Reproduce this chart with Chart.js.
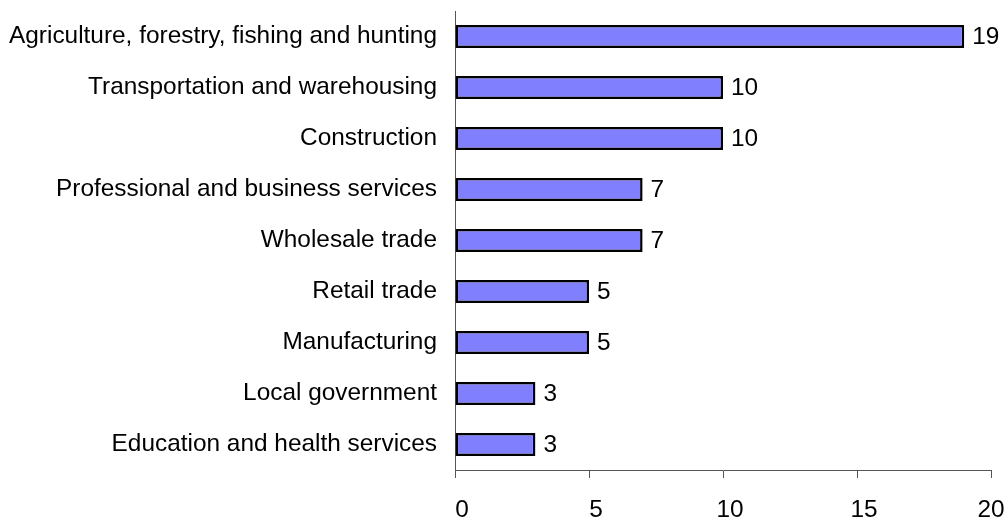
<!DOCTYPE html>
<html>
<head>
<meta charset="utf-8">
<script src="https://cdn.jsdelivr.net/npm/chart.js@4/dist/chart.umd.min.js"></script>
<style>
  html, body { margin: 0; padding: 0; background: #ffffff; }
  #wrap { width: 1008px; height: 520px; }
</style>
</head>
<body>
<div id="wrap"><canvas id="c" width="1008" height="520"></canvas></div>
<script>
// Industries, ordered top to bottom
const industries = [
  'Agriculture, forestry, fishing and hunting',
  'Transportation and warehousing',
  'Construction',
  'Professional and business services',
  'Wholesale trade',
  'Retail trade',
  'Manufacturing',
  'Local government',
  'Education and health services'
];
const counts = [19, 10, 10, 7, 7, 5, 5, 3, 3];
const xTicks = [0, 5, 10, 15, 20];

const FONT = "'Liberation Sans', Arial, sans-serif";
const FONT_SIZE = 24.4;
const AXIS_COLOR = '#555555';
const X_LABEL_SHIFT = 7;

// Writes each bar's value just past its end
const valueLabels = {
  id: 'valueLabels',
  afterDatasetsDraw(chart) {
    const ctx = chart.ctx;
    const meta = chart.getDatasetMeta(0);
    ctx.save();
    ctx.font = FONT_SIZE + 'px ' + FONT;
    ctx.fillStyle = '#000000';
    ctx.textAlign = 'left';
    ctx.textBaseline = 'middle';
    meta.data.forEach((bar, i) => {
      ctx.fillText(String(counts[i]), bar.x + 8, bar.y + 1);
    });
    ctx.restore();
  }
};

// Keeps the last x tick label centred on its tick so it stays inside the canvas
const lastTickLabel = {
  id: 'lastTickLabel',
  beforeDraw(chart) {
    const scale = chart.scales.x;
    const items = scale.getLabelItems(chart.chartArea);
    const last = items[items.length - 1];
    if (last && !last._shifted) {
      last.options.translation[0] -= X_LABEL_SHIFT;
      last._shifted = true;
    }
  }
};

new Chart(document.getElementById('c'), {
  type: 'bar',
  data: {
    labels: industries,
    datasets: [{
      data: counts,
      backgroundColor: '#8080FF',
      borderColor: '#000000',
      borderWidth: 2.5,
      borderSkipped: false,
      categoryPercentage: 1.0,
      barPercentage: 0.45
    }]
  },
  options: {
    indexAxis: 'y',
    responsive: false,
    animation: false,
    layout: { padding: { top: 11, right: 17, left: 0, bottom: 0 } },
    plugins: {
      legend: { display: false },
      tooltip: { enabled: false }
    },
    scales: {
      x: {
        type: 'linear',
        min: 0,
        max: 20,
        afterBuildTicks(scale) {
          scale.ticks = xTicks.map(v => ({ value: v }));
        },
        afterFit(scale) {
          scale.height = 50;
          scale.paddingLeft = 0;
          scale.paddingRight = 0;
        },
        border: { display: true, color: AXIS_COLOR, width: 1 },
        grid: {
          display: true,
          drawOnChartArea: false,
          drawTicks: true,
          tickLength: 8,
          color: AXIS_COLOR
        },
        ticks: {
          color: '#000000',
          font: { family: FONT, size: FONT_SIZE },
          padding: 18,
          labelOffset: X_LABEL_SHIFT,
          maxRotation: 0
        }
      },
      y: {
        afterFit(scale) {
          scale.width = 455;
          scale.paddingTop = 0;
          scale.paddingBottom = 0;
        },
        border: { display: true, color: AXIS_COLOR, width: 1 },
        grid: { display: false, drawTicks: false },
        ticks: {
          color: '#000000',
          font: { family: FONT, size: FONT_SIZE },
          padding: 18,
          autoSkip: false
        }
      }
    }
  },
  plugins: [valueLabels, lastTickLabel]
});
</script>
</body>
</html>
